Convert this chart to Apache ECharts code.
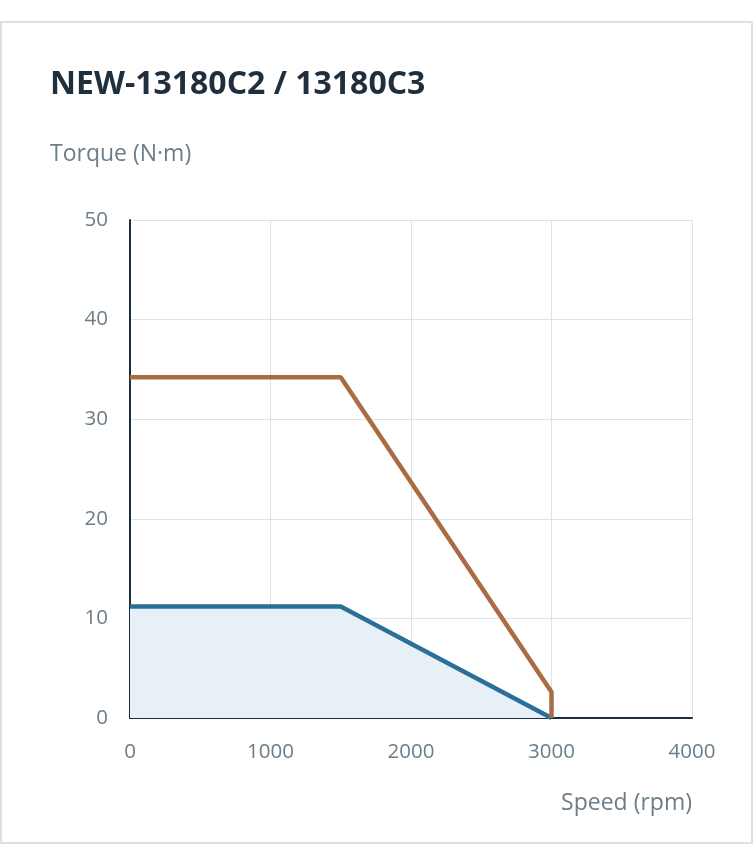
<!DOCTYPE html>
<html>
<head>
<meta charset="utf-8">
<script src="https://cdn.jsdelivr.net/npm/echarts@6/dist/echarts.min.js"></script>
<style>
html,body{margin:0;padding:0;background:#fff;}
#card{position:absolute;left:0;top:21px;width:753px;height:823px;border:2px solid #d8e1e5;box-sizing:border-box;}
#chart{position:absolute;left:0;top:0;width:755px;height:862px;}
</style>
</head>
<body>
<div id="card"></div>
<div id="chart"></div>
<script>
const titleText = 'NEW-13180C2 / 13180C3';
const yName = 'Torque (N·m)';
const xName = 'Speed (rpm)';
const peakTorque = [[0, 34.2], [1500, 34.2], [3000, 2.6], [3000, 0]];
const ratedTorque = [[0, 11.2], [1500, 11.2], [3000, 0]];
const xTicks = [0, 1000, 2000, 3000, 4000];
const yTicks = [0, 10, 20, 30, 40, 50];

const chart = echarts.init(document.getElementById('chart'));
const font = '"Open Sans", "Noto Sans", sans-serif';
chart.setOption({
  animation: false,
  textStyle: { fontFamily: font },
  title: [
    { text: titleText, left: 50, top: 69, padding: 0, textStyle: { fontFamily: font, fontSize: 32, fontWeight: 'bold', color: '#1f2f3d' } },
    { text: yName, left: 50, top: 143, padding: 0, textStyle: { fontFamily: font, fontSize: 23, fontWeight: 'normal', color: '#6b7d88' } },
    { text: xName, right: 63, top: 792, padding: 0, textStyle: { fontFamily: font, fontSize: 23, fontWeight: 'normal', color: '#6b7d88' } }
  ],
  grid: { left: 130, top: 220, width: 562, height: 498 },
  xAxis: {
    type: 'value', min: xTicks[0], max: xTicks[xTicks.length - 1], interval: 1000,
    axisLine: { show: true, lineStyle: { color: '#1f2d3a', width: 2 } },
    axisTick: { show: false },
    axisLabel: { margin: 24, fontSize: 20.5, color: '#6b7d88', fontFamily: font, formatter: v => String(v) },
    splitLine: { show: true, lineStyle: { color: '#dbe3e8', width: 1 } }
  },
  yAxis: {
    type: 'value', min: yTicks[0], max: yTicks[yTicks.length - 1], interval: 10,
    axisLine: { show: true, lineStyle: { color: '#1f2d3a', width: 2 } },
    axisTick: { show: false },
    axisLabel: { margin: 22, fontSize: 20.5, color: '#6b7d88', fontFamily: font },
    splitLine: { show: true, lineStyle: { color: '#dbe3e8', width: 1 } }
  },
  series: [
    {
      type: 'line', data: ratedTorque, symbol: 'none', z: 2,
      lineStyle: { color: '#2a6f98', width: 4.5 },
      areaStyle: { color: '#e8f0f7', opacity: 1 }
    },
    {
      type: 'line', data: peakTorque, symbol: 'none', z: 3,
      lineStyle: { color: '#a96c44', width: 4.5 }
    }
  ]
});
</script>
</body>
</html>
